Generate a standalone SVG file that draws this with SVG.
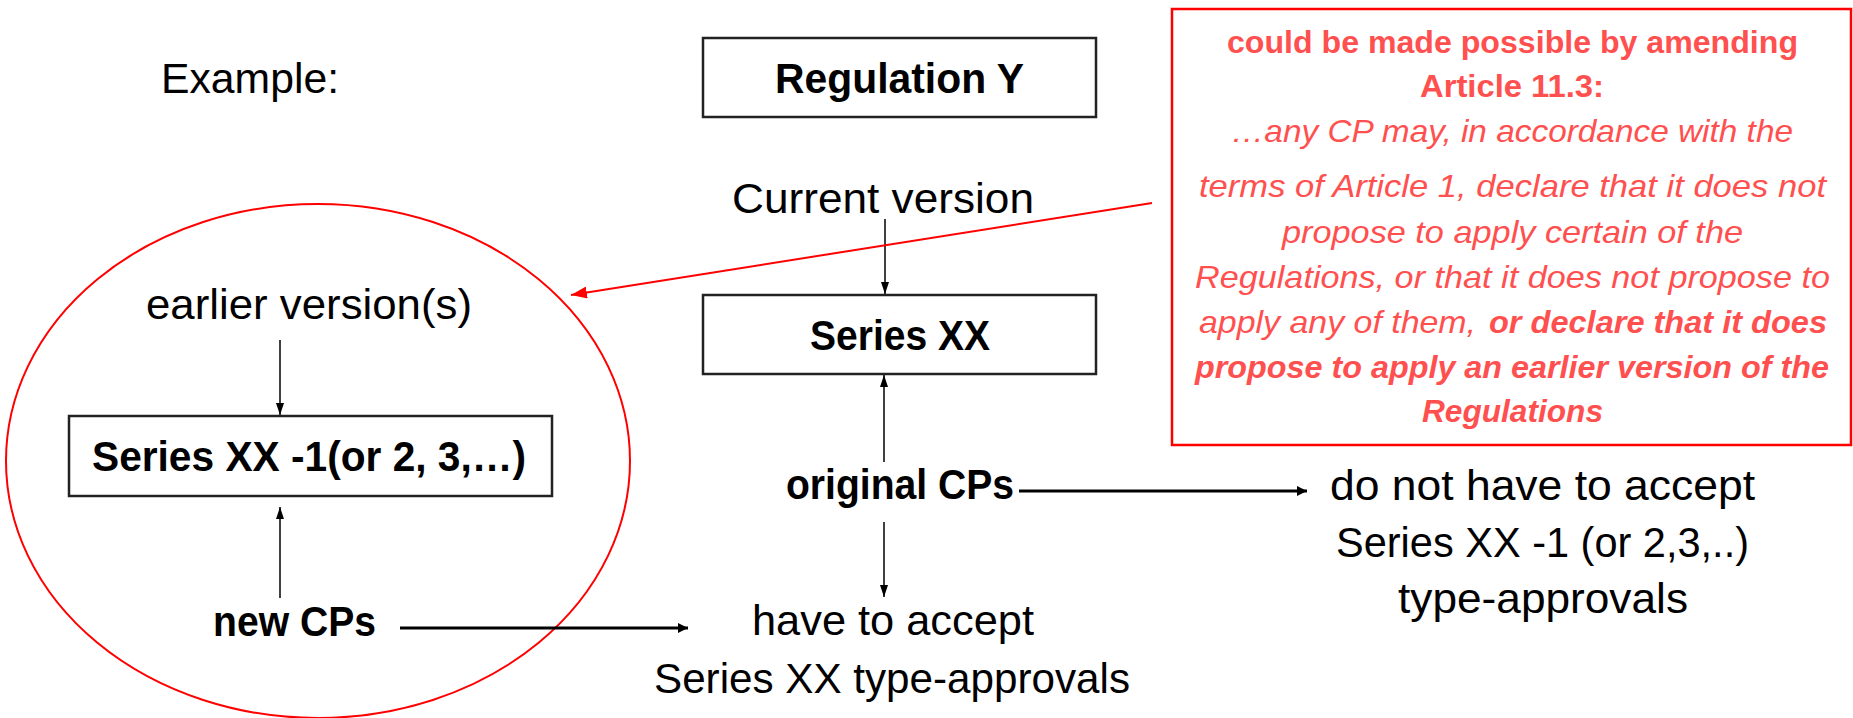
<svg xmlns="http://www.w3.org/2000/svg" width="1853" height="718" viewBox="0 0 1853 718">
<style>
text{font-family:"Liberation Sans",Arial,sans-serif;fill:#000}
.m{font-size:42px}
.b{font-weight:bold}
.r{font-size:32px;fill:#FF5050}
.i{font-style:italic}
.box{fill:#fff;stroke:#222;stroke-width:2.5}
.ln{stroke:#000;stroke-width:1.5;fill:none}
.th{stroke:#000;stroke-width:3;fill:none}
</style>
<defs>
<marker id="ah" viewBox="0 0 12 8" refX="12" refY="4" markerWidth="12" markerHeight="8" markerUnits="userSpaceOnUse" orient="auto"><path d="M0,0L12,4L0,8z" fill="#000"/></marker>
<marker id="ahs" viewBox="0 0 10 10" refX="10" refY="5" markerWidth="10" markerHeight="12" markerUnits="userSpaceOnUse" orient="auto"><path d="M0,0L10,5L0,10z" fill="#000"/></marker>
<marker id="ahr" viewBox="0 0 16 12" refX="16" refY="6" markerWidth="16" markerHeight="12" markerUnits="userSpaceOnUse" orient="auto"><path d="M0,0L16,6L0,12z" fill="#FF0000"/></marker>
</defs>
<g id="example"><text class="m" x="161" y="93" textLength="178" lengthAdjust="spacingAndGlyphs">Example:</text></g>
<g id="regY"><rect class="box" x="703" y="38" width="393" height="79"/><text class="m b" x="775" y="93" textLength="249" lengthAdjust="spacingAndGlyphs">Regulation Y</text></g>
<g id="current"><text class="m" x="732" y="213" textLength="302" lengthAdjust="spacingAndGlyphs">Current version</text></g>
<g id="seriesXX"><rect class="box" x="703" y="295" width="393" height="79"/><text class="m b" x="810" y="350" textLength="180" lengthAdjust="spacingAndGlyphs">Series XX</text></g>
<g id="circle"><ellipse cx="318" cy="461" rx="312" ry="257" fill="none" stroke="#FF0000" stroke-width="2"/></g>
<g id="earlier"><text class="m" x="146" y="319" textLength="326" lengthAdjust="spacingAndGlyphs">earlier version(s)</text></g>
<g id="seriesXX1"><rect class="box" x="69" y="416" width="483" height="80"/><text class="m b" x="92" y="471" textLength="434" lengthAdjust="spacingAndGlyphs">Series XX -1(or 2, 3,…)</text></g>
<g id="newCPs"><text class="m b" x="213" y="636" textLength="163" lengthAdjust="spacingAndGlyphs">new CPs</text></g>
<g id="origCPs"><text class="m b" x="786" y="499" textLength="228" lengthAdjust="spacingAndGlyphs">original CPs</text></g>
<g id="haveTo"><text class="m" x="752" y="635" textLength="282" lengthAdjust="spacingAndGlyphs">have to accept</text><text class="m" x="654" y="693" textLength="476" lengthAdjust="spacingAndGlyphs">Series XX type-approvals</text></g>
<g id="notHave"><text class="m" x="1330" y="500" textLength="425" lengthAdjust="spacingAndGlyphs">do not have to accept</text><text class="m" x="1336" y="557" textLength="413" lengthAdjust="spacingAndGlyphs">Series XX -1 (or 2,3,..)</text><text class="m" x="1398" y="613" textLength="290" lengthAdjust="spacingAndGlyphs">type-approvals</text></g>
<g id="note">
<rect x="1172" y="9" width="679" height="436" fill="#fff" stroke="#FF0000" stroke-width="2.5"/>
<text class="r b" x="1227" y="53" textLength="571" lengthAdjust="spacingAndGlyphs">could be made possible by amending</text>
<text class="r b" x="1420" y="97" textLength="184" lengthAdjust="spacingAndGlyphs">Article 11.3:</text>
<text class="r i" x="1231" y="142" textLength="562" lengthAdjust="spacingAndGlyphs">…any CP may, in accordance with the</text>
<text class="r i" x="1199" y="197" textLength="627" lengthAdjust="spacingAndGlyphs">terms of Article 1, declare that it does not</text>
<text class="r i" x="1282" y="243" textLength="461" lengthAdjust="spacingAndGlyphs">propose to apply certain of the</text>
<text class="r i" x="1195" y="288" textLength="635" lengthAdjust="spacingAndGlyphs">Regulations, or that it does not propose to</text>
<text class="r i" x="1199" y="333" textLength="277" lengthAdjust="spacingAndGlyphs">apply any of them,</text>
<text class="r i b" x="1489" y="333" textLength="338" lengthAdjust="spacingAndGlyphs">or declare that it does</text>
<text class="r i b" x="1195" y="378" textLength="634" lengthAdjust="spacingAndGlyphs">propose to apply an earlier version of the</text>
<text class="r i b" x="1422" y="422" textLength="181" lengthAdjust="spacingAndGlyphs">Regulations</text>
</g>
<g id="connectors">
<line class="ln" x1="885" y1="219" x2="885" y2="294" marker-end="url(#ah)"/>
<line class="ln" x1="884" y1="462" x2="884" y2="375" marker-end="url(#ah)"/>
<line class="ln" x1="884" y1="522" x2="884" y2="597" marker-end="url(#ah)"/>
<line class="ln" x1="280" y1="340" x2="280" y2="415" marker-end="url(#ah)"/>
<line class="ln" x1="280" y1="598" x2="280" y2="507" marker-end="url(#ah)"/>
<line class="th" x1="400" y1="628" x2="688" y2="628" marker-end="url(#ahs)"/>
<line class="th" x1="1019" y1="491" x2="1307" y2="491" marker-end="url(#ahs)"/>
<line x1="1152" y1="203" x2="571" y2="295" stroke="#FF0000" stroke-width="2" marker-end="url(#ahr)"/>
</g>
</svg>
